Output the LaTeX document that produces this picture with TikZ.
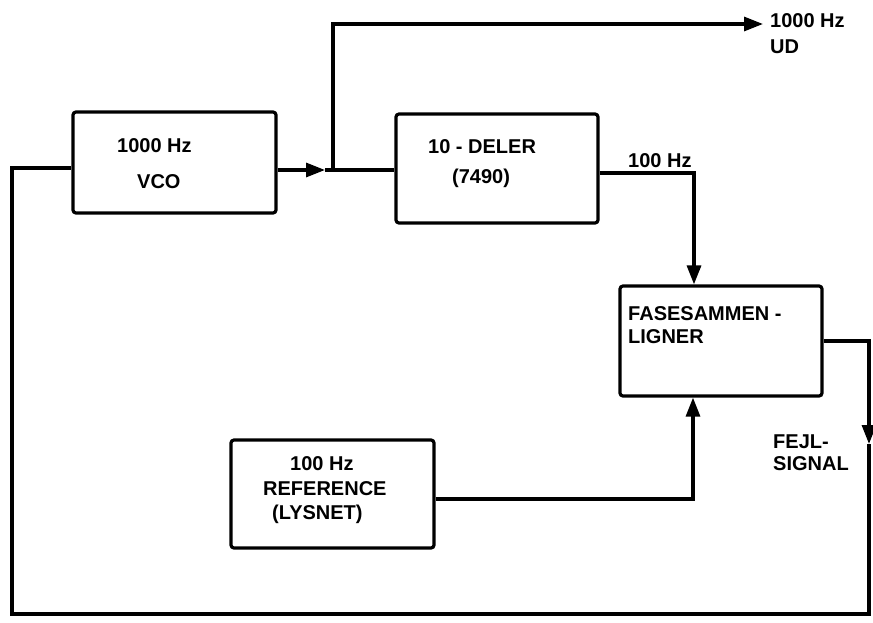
\documentclass[tikz,border=0pt]{standalone}
\usepackage{fontspec}
\setmainfont{Liberation Sans}
\usetikzlibrary{arrows.meta,calc}
\begin{document}
\begin{tikzpicture}[x=1pt,y=-1pt,
  blk/.style={draw,line width=3.2pt,rounded corners=3pt,inner sep=0pt},
  wire/.style={line width=3.2pt},
  tip/.style={-{Triangle[length=19pt,width=14pt]}},
  lbl/.style={font=\fontsize{20}{24}\bfseries, inner sep=0pt, anchor=base west}]
\useasboundingbox[fill=white] (0,0) rectangle (873,622);
% blocks
\node[blk, minimum width=203pt, minimum height=101pt] (vco)   at (174.5,162.5) {};
\node[blk, minimum width=202pt, minimum height=109pt] (deler) at (497,168.5) {};
\node[blk, minimum width=202pt, minimum height=110pt] (fase)  at (721,341) {};
\node[blk, minimum width=203pt, minimum height=108pt] (ref)   at (332.5,494) {};
% texts
\node[lbl] (t1)  at (117,152) {1000 Hz};
\node[lbl] (t2)  at (137,188) {VCO};
\node[lbl] (t3)  at (428,153) {10 - DELER};
\node[lbl] (t4)  at (452,183) {(7490)};
\node[lbl] (t5)  at (628,167) {100 Hz};
\node[lbl] (t6)  at (628,320) {FASESAMMEN -};
\node[lbl] (t7)  at (628,343) {LIGNER};
\node[lbl] (t8)  at (773,448) {FEJL-};
\node[lbl] (t9)  at (773,470) {SIGNAL};
\node[lbl] (t10) at (290,470) {100 Hz};
\node[lbl] (t11) at (263,495) {REFERENCE};
\node[lbl] (t12) at (272,519) {(LYSNET)};
\node[lbl] (t13) at (770,27) {1000 Hz};
\node[lbl] (t14) at (770,53) {UD};
% coordinates
\coordinate (j)   at (333,170);
\coordinate (up)  at (333,24);
\coordinate (out) at (763,24);
\coordinate (c1)  at (694,173);
\coordinate (c2)  at (869,341);
\coordinate (c2a) at (869,444);
\coordinate (c2b) at (869,614);
\coordinate (c2c) at (12,614);
\coordinate (c2d) at (12,168);
\coordinate (c3)  at (693,499);
\coordinate (ja)  at (325,170);
% connectors
\draw[wire,tip] (vco.east |- j) -- (ja);
\draw[wire] (ja) -- (deler.west |- j);
\draw[wire,tip] (j) -- (up) -- (out);
\draw[wire,tip] (deler.east |- c1) -- (c1) -- (c1 |- fase.north);
\draw[wire,tip] (ref.east |- c3) -- (c3) -- (c3 |- fase.south);
\draw[wire,tip] (fase.east |- c2) -- (c2) -- (c2a);
\draw[wire,line join=miter] (c2a) -- (c2b) -- (c2c) -- (c2d) -- (vco.west |- c2d);
\end{tikzpicture}
\end{document}
